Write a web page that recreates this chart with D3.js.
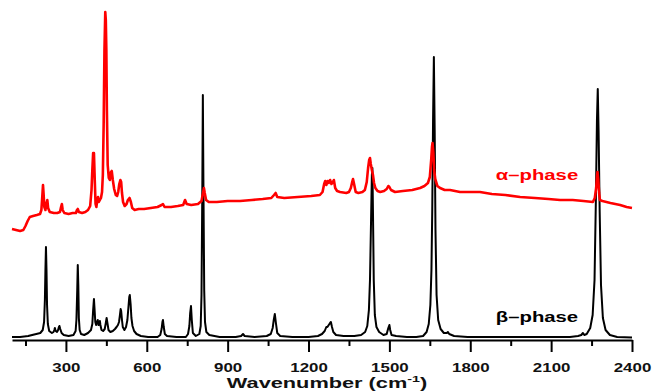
<!DOCTYPE html>
<html>
<head>
<meta charset="utf-8">
<script src="https://cdn.jsdelivr.net/npm/d3@7.9.0/dist/d3.min.js"></script>
<style>
  body { margin: 0; background: #fff; }
  svg { display: block; }
  .axis text { font-family: "Liberation Sans", Arial, sans-serif; font-weight: bold; }
</style>
</head>
<body>
<svg id="chart" width="654" height="392"></svg>
<script>
// Raman spectra, [wavenumber (cm-1), intensity (a.u., offset)]
const betaPhase = [
  [100,3],[130,3],[160,4],[175,5],[190,6],[205,7],[214,10],[219,18],[222,40],[224,70],[226,93],[228,70],[230,35],[233,16],[238,9],
  [248,7],[254,8],[257,10],[259,12],[262,9],[267,8],[271,10],[274,13],[276,14],[279,11],[284,7],[292,5],[310,4],[328,5],[336,9],
  [339,20],[342,50],[344,75],[346,55],[348,22],[351,10],[356,6],[368,5],[382,7],[393,10],[398,16],[401,30],[404,41],[406,32],[409,18],
  [412,15],[415,18],[418,20],[421,15],[424,16],[426,19],[428,15],[432,10],[438,9],[444,11],[448,17],[451,22],[454,17],[458,10],[465,8],
  [474,9],[482,11],[488,13],[493,15],[497,18],[500,24],[503,31],[505,29],[508,20],[511,13],[517,10],[523,13],[528,20],[532,33],[535,43],
  [537,45],[540,36],[543,22],[547,14],[553,9],[562,6],[578,4],[605,3],[640,3],[650,5],[655,11],[658,18],[660,20],[663,13],[667,6],
  [675,4],[710,3],[745,3],[753,6],[758,14],[761,27],[764,34],[767,20],[771,7],[782,4],[795,6],[800,14],[803,45],[806,150],[808,245],
  [810,160],[813,50],[816,18],[821,8],[832,5],[870,3],[930,3],[950,4],[957,6],[963,4],[1000,3],[1045,4],[1060,6],[1067,12],[1071,20],
  [1075,26],[1079,17],[1084,7],[1095,4],[1140,3],[1200,3],[1235,4],[1250,6],[1260,9],[1266,13],[1270,13],[1275,15],[1280,17],[1283,18],
  [1287,13],[1292,8],[1302,5],[1330,4],[1370,4],[1395,5],[1410,8],[1418,14],[1424,30],[1428,60],[1432,120],[1435,165],[1437,172],
  [1439,130],[1442,60],[1446,25],[1452,13],[1462,8],[1478,5],[1490,6],[1496,12],[1500,15],[1503,10],[1508,5],[1525,4],[1565,3],
  [1600,3],[1625,4],[1638,8],[1646,16],[1652,35],[1656,70],[1659,130],[1662,220],[1665,283],[1668,210],[1671,110],[1675,45],[1681,20],
  [1690,11],[1702,7],[1713,7],[1717,8],[1722,6],[1740,4],[1790,3],[1900,3],[2000,3],[2100,3],[2170,3],[2200,4],[2212,5],[2218,7],
  [2223,5],[2232,6],[2245,12],[2254,25],[2261,60],[2266,140],[2270,220],[2273,251],[2276,210],[2280,130],[2285,55],[2292,22],
  [2302,10],[2318,5],[2345,3],[2400,2.5]
];

const alphaPhase = [
  [100,111],[115,110],[130,109],[142,110],[150,114],[158,119],[166,123],[178,124],[192,125],[204,126],[209,130],[212,142],[215,155],
  [217,147],[220,133],[224,130],[228,137],[231,140],[234,132],[240,128],[255,127],[268,127],[278,128],[282,133],[285,136],[288,130],
  [294,127],[310,126],[325,127],[337,127],[341,130],[344,131],[348,128],[360,127],[372,128],[382,130],[390,134],[395,150],[398,170],
  [401,187],[404,187],[407,160],[410,136],[413,133],[416,140],[419,143],[422,138],[426,140],[430,142],[434,148],[437,165],[440,215],
  [443,290],[446,328],[448,320],[450,290],[452,230],[455,175],[459,162],[463,160],[467,168],[470,169],[474,160],[479,151],[485,145],
  [490,144],[494,148],[498,156],[502,160],[505,158],[508,147],[512,138],[518,134],[525,136],[530,140],[536,142],[541,138],[546,132],
  [555,130],[570,131],[590,131],[615,132],[640,133],[655,135],[660,136],[666,133],[690,133],[715,134],[735,135],[742,140],[748,136],
  [765,135],[790,136],[803,139],[808,146],[812,152],[815,147],[820,140],[830,138],[860,138],[900,139],[946,139],[990,140],[1030,141],
  [1062,142],[1072,145],[1078,147],[1084,143],[1110,142],[1160,143],[1210,144],[1242,145],[1252,148],[1258,156],[1262,159],[1266,155],
  [1271,159],[1275,157],[1280,160],[1285,156],[1290,158],[1294,160],[1299,152],[1306,149],[1317,148],[1340,147],[1350,148],[1357,152],
  [1362,158],[1365,161],[1369,156],[1375,148],[1385,147],[1400,148],[1409,150],[1416,158],[1421,172],[1425,180],[1428,182],[1431,176],
  [1435,170],[1439,165],[1443,157],[1448,152],[1456,149],[1466,148],[1480,149],[1490,151],[1496,154],[1500,153],[1506,150],[1521,148],
  [1550,149],[1585,150],[1614,152],[1630,154],[1643,157],[1650,163],[1655,180],[1658,193],[1660,197],[1663,188],[1666,170],[1670,161],
  [1678,154],[1688,152],[1705,150],[1725,150],[1762,148],[1800,148],[1836,148],[1880,146],[1930,145],[1985,143],[2040,142],[2090,141],
  [2133,140],[2180,140],[2220,139],[2255,138],[2262,142],[2267,152],[2270,163],[2272,168],[2275,160],[2278,147],[2281,140],[2290,139],
  [2320,137],[2356,135],[2380,133],[2400,132]
];

const majorTicks = [300, 600, 900, 1200, 1500, 1800, 2100, 2400];
const minorTicks = [150, 450, 750, 1050, 1350, 1650, 1950, 2250];
const xDomain = [100, 2400];

const svg = d3.select('#chart');
const x = d3.scaleLinear().domain(xDomain).range([12, 632]);
const y = d3.scaleLinear().domain([0, 340]).range([340, 0]);
const axisY = 340;

const line = d3.line().x(d => x(d[0])).y(d => y(d[1]));

// spectra (black first, red on top)
svg.append('path').datum(betaPhase)
  .attr('d', line).attr('fill', 'none')
  .attr('stroke', '#000').attr('stroke-width', 2).attr('stroke-linejoin', 'round');

svg.append('path').datum(alphaPhase)
  .attr('d', line).attr('fill', 'none')
  .attr('stroke', '#ff0000').attr('stroke-width', 2.6).attr('stroke-linejoin', 'round');

// minor ticks
svg.append('g')
  .attr('transform', `translate(0,${axisY})`)
  .call(d3.axisBottom(x).tickValues(minorTicks).tickSize(6).tickSizeOuter(0).tickFormat(''))
  .call(g => g.select('.domain').remove())
  .call(g => g.selectAll('line').attr('stroke-width', 2));

// major ticks + labels
const xAxis = svg.append('g')
  .attr('class', 'axis')
  .attr('transform', `translate(0,${axisY})`)
  .call(d3.axisBottom(x).tickValues(majorTicks).tickSize(12).tickSizeOuter(0).tickFormat(d3.format('d')));

xAxis.select('.domain').attr('stroke-width', 2.2);
xAxis.selectAll('line').attr('stroke-width', 2);
xAxis.selectAll('text')
  .attr('y', null).attr('dy', null)
  .attr('font-size', 13).attr('fill', '#111')
  .attr('transform', 'translate(0,32) scale(1.3,1)');

// axis title
const title = svg.append('text')
  .attr('transform', 'translate(327,388) scale(1.5,1)')
  .attr('text-anchor', 'middle')
  .attr('font-family', '"Liberation Sans", Arial, sans-serif')
  .attr('font-weight', 'bold').attr('font-size', 14.5).attr('fill', '#111');
title.append('tspan').text('Wavenumber (cm');
title.append('tspan').attr('dy', -6).attr('font-size', 9.5).text('-1');
title.append('tspan').attr('dy', 6).text(')');

// phase labels
const labels = [
  { text: 'α–phase', color: '#ff0000', yPos: 180 },
  { text: 'β–phase', color: '#000', yPos: 322 }
];
labels.forEach(l => {
  svg.append('text')
    .attr('transform', `translate(537,${l.yPos}) scale(1.45,1)`)
    .attr('text-anchor', 'middle')
    .attr('font-family', '"Liberation Sans", Arial, sans-serif')
    .attr('font-weight', 'bold').attr('font-size', 14)
    .attr('fill', l.color)
    .text(l.text);
});
</script>
</body>
</html>
